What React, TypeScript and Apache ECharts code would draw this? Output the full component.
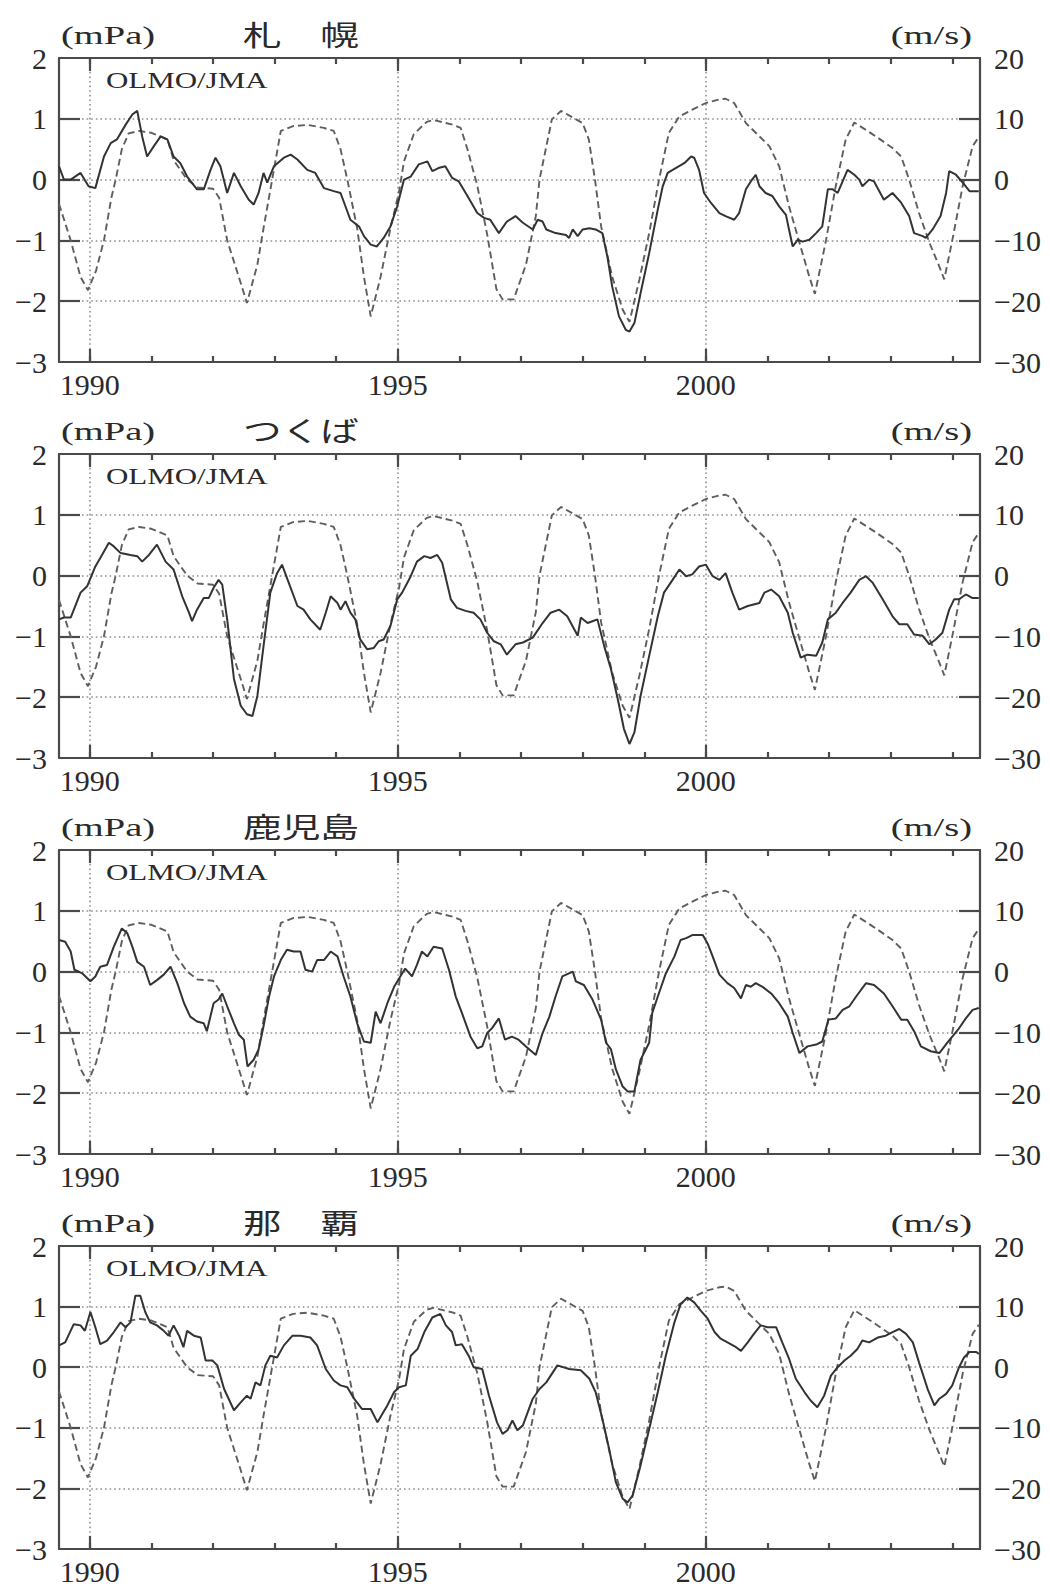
import React, { useEffect, useRef } from "react";
import * as echarts from "echarts";

// Station panels, top to bottom
const stationNames = ["札\u3000幌", "つくば", "鹿児島", "那\u3000覇"];

// Axis tick values
const yearLabels = [1990, 1995, 2000];
const yearTicks = [1990, 1991, 1992, 1993, 1994, 1995, 1996, 1997, 1998, 1999, 2000, 2001, 2002, 2003, 2004];
const pressureLabels = [-3, -2, -1, 0, 1, 2];
const pressureInnerTicks = [-2, -1, 0, 1];
const windLabels = [-30, -20, -10, 0, 10, 20];
const windInnerTicks = [-20, -10, 0, 10];

// Equatorial zonal wind (m/s), dashed, shared by every panel: [year, value]
const qboWind: number[][] = [
  [1989.5, -4], [1989.69, -10], [1989.85, -16], [1989.97, -18.2], [1990.1, -15], [1990.23, -10],
  [1990.35, -3], [1990.42, 0], [1990.52, 5], [1990.63, 7.6], [1990.8, 8], [1991.0, 7.7],
  [1991.26, 6.6], [1991.36, 3.2], [1991.58, 0], [1991.75, -1.3], [1992.0, -1.5], [1992.1, -3],
  [1992.23, -10], [1992.45, -17], [1992.55, -20.3], [1992.72, -14], [1992.82, -8], [1992.96, 0],
  [1993.1, 8], [1993.3, 8.8], [1993.53, 9], [1993.8, 8.5], [1993.96, 8], [1994.07, 5],
  [1994.18, 0], [1994.34, -8], [1994.45, -16], [1994.56, -22.5], [1994.72, -16], [1994.88, -8],
  [1995.02, -2], [1995.1, 3], [1995.26, 7.5], [1995.47, 9.5], [1995.58, 9.8], [1995.9, 9],
  [1996.02, 8.5], [1996.13, 5], [1996.29, -1], [1996.45, -9], [1996.6, -18], [1996.7, -19.7],
  [1996.88, -19.7], [1997.08, -14], [1997.24, -6], [1997.3, 0], [1997.5, 9.9], [1997.65, 11.3],
  [1998.0, 9.3], [1998.1, 6.6], [1998.2, 0], [1998.3, -7.7], [1998.48, -16], [1998.65, -21.4],
  [1998.76, -23.4], [1998.92, -16.5], [1999.08, -8.8], [1999.24, 0], [1999.4, 7.7], [1999.57, 10.4],
  [1999.78, 11.5], [2000.0, 12.6], [2000.22, 13.2], [2000.32, 13.3], [2000.46, 12.6], [2000.65, 9.3],
  [2000.87, 7.1], [2001.03, 5.5], [2001.19, 2.2], [2001.35, -4.4], [2001.52, -10.4], [2001.68, -16],
  [2001.77, -18.8], [2001.95, -10], [2002.11, -1], [2002.27, 6.6], [2002.41, 9.4], [2002.76, 7.1],
  [2003.03, 5.2], [2003.17, 3.8], [2003.3, 0], [2003.46, -5.5], [2003.63, -10.4], [2003.79, -14.3],
  [2003.87, -16.4], [2004.0, -10], [2004.17, -1], [2004.33, 5.5], [2004.43, 7],
];

// Ozone partial pressure anomaly (mPa), solid, per station: [year, value]
const sapporo: number[][] = [
  [1989.5, 0.22], [1989.58, 0.0], [1989.69, 0.0], [1989.85, 0.11], [1989.98, -0.11], [1990.09, -0.14],
  [1990.23, 0.38], [1990.34, 0.6], [1990.44, 0.66], [1990.58, 0.9], [1990.69, 1.07], [1990.77, 1.13],
  [1990.85, 0.71], [1990.93, 0.38], [1991.04, 0.55], [1991.15, 0.71], [1991.26, 0.66], [1991.36, 0.38],
  [1991.47, 0.27], [1991.58, 0.05], [1991.74, -0.16], [1991.85, -0.16], [1991.96, 0.16], [1992.04, 0.36],
  [1992.12, 0.22], [1992.23, -0.22], [1992.34, 0.11], [1992.45, -0.11], [1992.58, -0.33], [1992.66, -0.41],
  [1992.74, -0.22], [1992.82, 0.11], [1992.88, -0.05], [1992.99, 0.22], [1993.15, 0.36], [1993.26, 0.41],
  [1993.37, 0.33], [1993.53, 0.16], [1993.66, 0.11], [1993.8, -0.14], [1993.96, -0.19], [1994.07, -0.22],
  [1994.23, -0.66], [1994.37, -0.77], [1994.45, -0.93], [1994.56, -1.07], [1994.66, -1.1], [1994.77, -0.96],
  [1994.88, -0.77], [1994.99, -0.44], [1995.1, 0.0], [1995.21, 0.05], [1995.34, 0.25], [1995.48, 0.3],
  [1995.56, 0.14], [1995.66, 0.19], [1995.77, 0.22], [1995.88, 0.03], [1995.99, -0.03], [1996.13, -0.27],
  [1996.29, -0.55], [1996.4, -0.63], [1996.5, -0.66], [1996.64, -0.88], [1996.77, -0.69], [1996.91, -0.6],
  [1997.03, -0.71], [1997.19, -0.82], [1997.27, -0.66], [1997.35, -0.69], [1997.41, -0.82], [1997.56, -0.88],
  [1997.73, -0.91], [1997.78, -0.96], [1997.84, -0.82], [1997.92, -0.93], [1998.0, -0.82], [1998.11, -0.8],
  [1998.21, -0.82], [1998.32, -0.88], [1998.4, -1.26], [1998.48, -1.76], [1998.59, -2.25], [1998.7, -2.47],
  [1998.76, -2.5], [1998.84, -2.36], [1998.94, -1.87], [1999.08, -1.21], [1999.22, -0.49], [1999.3, -0.11],
  [1999.38, 0.11], [1999.51, 0.19], [1999.65, 0.27], [1999.76, 0.38], [1999.81, 0.36], [1999.89, 0.16],
  [1999.97, -0.22], [2000.08, -0.38], [2000.22, -0.55], [2000.32, -0.6], [2000.46, -0.66], [2000.54, -0.55],
  [2000.65, -0.16], [2000.73, -0.03], [2000.81, 0.08], [2000.87, -0.11], [2000.97, -0.22], [2001.08, -0.27],
  [2001.19, -0.44], [2001.3, -0.58], [2001.35, -0.82], [2001.41, -1.1], [2001.49, -0.99], [2001.57, -1.02],
  [2001.68, -0.99], [2001.79, -0.88], [2001.89, -0.77], [2001.98, -0.16], [2002.06, -0.16], [2002.14, -0.22],
  [2002.22, -0.03], [2002.3, 0.16], [2002.41, 0.08], [2002.49, 0.0], [2002.54, -0.11], [2002.65, 0.0],
  [2002.73, -0.03], [2002.89, -0.33], [2003.03, -0.22], [2003.17, -0.38], [2003.3, -0.6], [2003.38, -0.88],
  [2003.52, -0.93], [2003.57, -0.96], [2003.68, -0.82], [2003.81, -0.6], [2003.9, -0.22], [2003.95, 0.14],
  [2004.06, 0.08], [2004.17, -0.05], [2004.28, -0.19], [2004.43, -0.19],
];

const tsukuba: number[][] = [
  [1989.5, -0.72], [1989.58, -0.69], [1989.69, -0.69], [1989.85, -0.28], [1989.96, -0.17], [1990.09, 0.15],
  [1990.17, 0.29], [1990.31, 0.54], [1990.39, 0.48], [1990.5, 0.37], [1990.66, 0.34], [1990.77, 0.32],
  [1990.85, 0.23], [1990.96, 0.34], [1991.09, 0.51], [1991.23, 0.23], [1991.36, 0.1], [1991.5, -0.34],
  [1991.61, -0.61], [1991.66, -0.75], [1991.74, -0.56], [1991.85, -0.37], [1991.93, -0.37], [1992.01, -0.2],
  [1992.09, -0.07], [1992.15, -0.15], [1992.23, -0.72], [1992.34, -1.7], [1992.45, -2.14], [1992.55, -2.28],
  [1992.64, -2.31], [1992.72, -1.98], [1992.82, -1.16], [1992.93, -0.28], [1993.04, 0.04], [1993.12, 0.18],
  [1993.23, -0.12], [1993.37, -0.5], [1993.47, -0.56], [1993.58, -0.72], [1993.74, -0.89], [1993.83, -0.61],
  [1993.91, -0.34], [1994.02, -0.45], [1994.07, -0.56], [1994.15, -0.42], [1994.23, -0.61], [1994.31, -0.72],
  [1994.39, -1.05], [1994.5, -1.21], [1994.61, -1.19], [1994.69, -1.08], [1994.77, -1.05], [1994.88, -0.83],
  [1994.99, -0.39], [1995.07, -0.28], [1995.21, -0.01], [1995.31, 0.23], [1995.43, 0.32], [1995.53, 0.29],
  [1995.64, 0.34], [1995.72, 0.21], [1995.86, -0.39], [1995.96, -0.53], [1996.1, -0.58], [1996.23, -0.61],
  [1996.34, -0.72], [1996.45, -0.94], [1996.56, -1.08], [1996.67, -1.13], [1996.77, -1.3], [1996.91, -1.13],
  [1997.03, -1.1], [1997.19, -1.02], [1997.35, -0.78], [1997.48, -0.61], [1997.62, -0.56], [1997.75, -0.67],
  [1997.92, -0.99], [1997.97, -0.69], [1998.08, -0.78], [1998.16, -0.75], [1998.24, -0.72], [1998.35, -1.16],
  [1998.46, -1.54], [1998.57, -2.03], [1998.67, -2.52], [1998.76, -2.77], [1998.84, -2.58], [1998.94, -1.98],
  [1999.08, -1.32], [1999.22, -0.67], [1999.32, -0.28], [1999.46, -0.07], [1999.57, 0.1], [1999.68, -0.01],
  [1999.78, 0.02], [1999.89, 0.15], [2000.0, 0.18], [2000.11, -0.01], [2000.22, -0.07], [2000.32, 0.04],
  [2000.43, -0.28], [2000.54, -0.56], [2000.68, -0.5], [2000.87, -0.45], [2000.95, -0.28], [2001.06, -0.23],
  [2001.19, -0.34], [2001.33, -0.61], [2001.41, -0.94], [2001.54, -1.35], [2001.65, -1.3], [2001.79, -1.32],
  [2001.89, -1.1], [2001.98, -0.72], [2002.11, -0.61], [2002.22, -0.45], [2002.35, -0.28], [2002.49, -0.07],
  [2002.6, -0.01], [2002.71, -0.12], [2002.87, -0.39], [2003.03, -0.67], [2003.14, -0.8], [2003.27, -0.8],
  [2003.38, -0.97], [2003.52, -0.99], [2003.63, -1.13], [2003.73, -1.05], [2003.84, -0.94], [2003.95, -0.56],
  [2004.03, -0.39], [2004.11, -0.39], [2004.22, -0.31], [2004.33, -0.37], [2004.43, -0.37],
];

const kagoshima: number[][] = [
  [1989.5, 0.52], [1989.6, 0.49], [1989.69, 0.33], [1989.75, 0.03], [1989.88, -0.03], [1990.01, -0.16],
  [1990.09, -0.08], [1990.17, 0.08], [1990.28, 0.11], [1990.39, 0.41], [1990.52, 0.71], [1990.61, 0.63],
  [1990.69, 0.41], [1990.77, 0.16], [1990.88, 0.08], [1990.98, -0.22], [1991.09, -0.14], [1991.2, -0.05],
  [1991.31, 0.08], [1991.42, -0.19], [1991.53, -0.52], [1991.63, -0.74], [1991.74, -0.82], [1991.85, -0.85],
  [1991.9, -0.98], [1992.01, -0.52], [1992.09, -0.46], [1992.15, -0.36], [1992.23, -0.57], [1992.34, -0.85],
  [1992.42, -1.04], [1992.5, -1.12], [1992.56, -1.56], [1992.66, -1.45], [1992.74, -1.28], [1992.82, -0.9],
  [1992.91, -0.41], [1992.99, -0.08], [1993.1, 0.19], [1993.2, 0.36], [1993.31, 0.33], [1993.42, 0.33],
  [1993.5, 0.03], [1993.61, 0.0], [1993.69, 0.19], [1993.8, 0.19], [1993.91, 0.33], [1994.02, 0.25],
  [1994.12, -0.08], [1994.23, -0.41], [1994.34, -0.85], [1994.45, -1.15], [1994.56, -1.17], [1994.64, -0.66],
  [1994.72, -0.85], [1994.83, -0.52], [1994.94, -0.25], [1995.04, -0.08], [1995.12, 0.05], [1995.23, -0.08],
  [1995.31, 0.11], [1995.39, 0.33], [1995.48, 0.25], [1995.58, 0.41], [1995.72, 0.38], [1995.83, 0.03],
  [1995.94, -0.41], [1996.04, -0.68], [1996.18, -1.07], [1996.29, -1.26], [1996.37, -1.23], [1996.45, -1.01],
  [1996.53, -0.93], [1996.64, -0.77], [1996.74, -1.12], [1996.85, -1.07], [1996.96, -1.12], [1997.08, -1.23],
  [1997.24, -1.37], [1997.35, -1.01], [1997.46, -0.74], [1997.56, -0.41], [1997.67, -0.08], [1997.84, 0.0],
  [1997.89, -0.16], [1998.02, -0.22], [1998.16, -0.46], [1998.3, -0.79], [1998.38, -1.17], [1998.46, -1.28],
  [1998.54, -1.61], [1998.65, -1.89], [1998.73, -1.97], [1998.84, -1.97], [1998.94, -1.45], [1999.08, -1.17],
  [1999.13, -0.68], [1999.22, -0.41], [1999.35, -0.03], [1999.49, 0.25], [1999.59, 0.52], [1999.68, 0.55],
  [1999.78, 0.6], [1999.95, 0.6], [2000.03, 0.46], [2000.11, 0.25], [2000.22, -0.05], [2000.35, -0.19],
  [2000.46, -0.27], [2000.57, -0.44], [2000.65, -0.22], [2000.73, -0.25], [2000.81, -0.19], [2000.92, -0.25],
  [2001.06, -0.36], [2001.19, -0.52], [2001.33, -0.74], [2001.41, -1.01], [2001.52, -1.34], [2001.65, -1.23],
  [2001.79, -1.2], [2001.89, -1.15], [2001.99, -0.79], [2002.11, -0.77], [2002.22, -0.63], [2002.33, -0.57],
  [2002.44, -0.41], [2002.6, -0.19], [2002.73, -0.22], [2002.89, -0.36], [2003.03, -0.57], [2003.17, -0.79],
  [2003.27, -0.79], [2003.38, -0.98], [2003.49, -1.23], [2003.65, -1.31], [2003.79, -1.34], [2003.92, -1.17],
  [2004.09, -0.96], [2004.22, -0.77], [2004.33, -0.63], [2004.43, -0.6],
];

const naha: number[][] = [
  [1989.5, 0.36], [1989.6, 0.41], [1989.74, 0.71], [1989.85, 0.69], [1989.92, 0.6], [1990.01, 0.91],
  [1990.09, 0.66], [1990.17, 0.38], [1990.28, 0.44], [1990.39, 0.58], [1990.5, 0.74], [1990.58, 0.66],
  [1990.66, 0.74], [1990.74, 1.18], [1990.82, 1.18], [1990.9, 0.91], [1990.98, 0.74], [1991.09, 0.69],
  [1991.2, 0.6], [1991.28, 0.52], [1991.36, 0.69], [1991.45, 0.52], [1991.52, 0.33], [1991.58, 0.6],
  [1991.69, 0.52], [1991.8, 0.49], [1991.88, 0.11], [1991.99, 0.11], [1992.07, 0.03], [1992.18, -0.36],
  [1992.34, -0.71], [1992.45, -0.58], [1992.55, -0.47], [1992.61, -0.52], [1992.69, -0.25], [1992.77, -0.3],
  [1992.85, 0.03], [1992.93, 0.19], [1993.04, 0.16], [1993.15, 0.36], [1993.29, 0.52], [1993.42, 0.52],
  [1993.58, 0.49], [1993.69, 0.36], [1993.83, -0.03], [1993.96, -0.22], [1994.07, -0.3], [1994.18, -0.33],
  [1994.29, -0.52], [1994.42, -0.69], [1994.56, -0.69], [1994.67, -0.91], [1994.75, -0.77], [1994.83, -0.63],
  [1994.94, -0.41], [1995.02, -0.33], [1995.13, -0.3], [1995.21, 0.19], [1995.32, 0.3], [1995.43, 0.58],
  [1995.56, 0.82], [1995.69, 0.88], [1995.78, 0.69], [1995.88, 0.58], [1995.94, 0.36], [1996.04, 0.38],
  [1996.15, 0.19], [1996.23, 0.0], [1996.37, -0.03], [1996.48, -0.47], [1996.61, -0.91], [1996.7, -1.1],
  [1996.78, -1.04], [1996.86, -0.88], [1996.94, -1.04], [1997.03, -0.96], [1997.19, -0.52], [1997.3, -0.36],
  [1997.41, -0.25], [1997.59, 0.03], [1997.78, -0.03], [1997.97, -0.05], [1998.11, -0.19], [1998.21, -0.41],
  [1998.32, -0.85], [1998.43, -1.35], [1998.54, -1.9], [1998.65, -2.17], [1998.73, -2.23], [1998.81, -2.12],
  [1998.94, -1.62], [1999.08, -1.02], [1999.22, -0.41], [1999.35, 0.19], [1999.49, 0.74], [1999.59, 1.04],
  [1999.7, 1.15], [1999.81, 1.07], [1999.92, 0.93], [2000.03, 0.8], [2000.14, 0.58], [2000.24, 0.47],
  [2000.35, 0.41], [2000.49, 0.33], [2000.57, 0.27], [2000.68, 0.41], [2000.78, 0.55], [2000.89, 0.69],
  [2001.0, 0.66], [2001.14, 0.66], [2001.24, 0.41], [2001.35, 0.14], [2001.46, -0.19], [2001.6, -0.41],
  [2001.7, -0.55], [2001.81, -0.66], [2001.92, -0.47], [2002.03, -0.14], [2002.14, 0.0], [2002.25, 0.11],
  [2002.35, 0.19], [2002.46, 0.3], [2002.54, 0.44], [2002.65, 0.41], [2002.79, 0.49], [2002.92, 0.52],
  [2003.03, 0.58], [2003.14, 0.63], [2003.25, 0.55], [2003.36, 0.41], [2003.46, 0.08], [2003.6, -0.36],
  [2003.71, -0.63], [2003.79, -0.52], [2003.9, -0.44], [2004.0, -0.3], [2004.11, 0.0], [2004.19, 0.16],
  [2004.28, 0.25], [2004.39, 0.25], [2004.43, 0.22],
];

const stationSeries = [sapporo, tsukuba, kagoshima, naha];

// Layout
const PANEL_TOPS = [58, 454, 850, 1246];
const PANEL_HEIGHT = 304;
const PLOT_LEFT = 59;
const PLOT_RIGHT = 980;
const X_MIN = 1989.5;
const X_MAX = 2004.45;

const SERIF = "'Liberation Serif', 'Times New Roman', serif";
const CJK = "'Noto Sans CJK JP', sans-serif";
const INK = "#2a2a2a";
const FRAME = "#4a4a4a";
const GRID = "#8f8f8f";
const TICK_FONT = 30;

const withMinus = (v: number | string) => String(v).replace("-", "\u2212");
const plainYear = (v: number | string) => String(Math.round(Number(v)));

function buildOption() {
  const grid: any[] = [];
  const xAxis: any[] = [];
  const yAxis: any[] = [];
  const series: any[] = [];
  const graphic: any[] = [];

  PANEL_TOPS.forEach((top, p) => {
    grid.push({
      left: PLOT_LEFT,
      top,
      width: PLOT_RIGHT - PLOT_LEFT,
      height: PANEL_HEIGHT,
      containLabel: false,
    });

    const xBase = {
      type: "value",
      gridIndex: p,
      min: X_MIN,
      max: X_MAX,
      axisLabel: { show: false },
      splitLine: { show: false },
    };
    const frameLine = { show: true, onZero: false, lineStyle: { color: FRAME, width: 2.2 } };
    const noLine = { show: false, onZero: false };
    const dotted = { color: GRID, width: 1.6, type: [1.6, 3] };

    // bottom: frame, long year ticks, labels, vertical dotted grid
    xAxis.push({
      ...xBase,
      position: "bottom",
      axisLine: frameLine,
      axisTick: {
        show: true,
        inside: true,
        length: 13,
        customValues: yearLabels,
        lineStyle: { color: FRAME, width: 2.2 },
      },
      axisLabel: {
        show: true,
        customValues: yearLabels,
        margin: 7,
        fontSize: TICK_FONT,
        fontFamily: SERIF,
        color: INK,
        formatter: plainYear,
      },
      splitLine: { show: true, lineStyle: dotted },
    });
    // bottom: short yearly ticks
    xAxis.push({
      ...xBase,
      position: "bottom",
      axisLine: noLine,
      axisTick: {
        show: true,
        inside: true,
        length: 6,
        customValues: yearTicks,
        lineStyle: { color: FRAME, width: 2.2 },
      },
    });
    // top: frame and long year ticks
    xAxis.push({
      ...xBase,
      position: "top",
      axisLine: frameLine,
      axisTick: {
        show: true,
        inside: true,
        length: 13,
        customValues: yearLabels,
        lineStyle: { color: FRAME, width: 2.2 },
      },
    });
    // top: short yearly ticks
    xAxis.push({
      ...xBase,
      position: "top",
      axisLine: noLine,
      axisTick: {
        show: true,
        inside: true,
        length: 6,
        customValues: yearTicks,
        lineStyle: { color: FRAME, width: 2.2 },
      },
    });

    // left: ozone anomaly (mPa)
    yAxis.push({
      type: "value",
      gridIndex: p,
      position: "left",
      min: -3,
      max: 2,
      interval: 1,
      axisLine: frameLine,
      axisTick: {
        show: true,
        inside: true,
        length: 21,
        customValues: pressureInnerTicks,
        lineStyle: { color: FRAME, width: 2.2 },
      },
      axisLabel: {
        show: true,
        customValues: pressureLabels,
        margin: 12,
        fontSize: TICK_FONT,
        fontFamily: SERIF,
        color: INK,
        formatter: withMinus,
      },
      splitLine: { show: true, lineStyle: dotted },
    });
    // right: zonal wind (m/s)
    yAxis.push({
      type: "value",
      gridIndex: p,
      position: "right",
      min: -30,
      max: 20,
      interval: 10,
      axisLine: frameLine,
      axisTick: {
        show: true,
        inside: true,
        length: 21,
        customValues: windInnerTicks,
        lineStyle: { color: FRAME, width: 2.2 },
      },
      axisLabel: {
        show: true,
        customValues: windLabels,
        margin: 14,
        fontSize: TICK_FONT,
        fontFamily: SERIF,
        color: INK,
        formatter: withMinus,
      },
      splitLine: { show: false },
    });

    series.push({
      type: "line",
      name: "wind" + p,
      xAxisIndex: p * 4,
      yAxisIndex: p * 2 + 1,
      data: qboWind,
      showSymbol: false,
      symbol: "none",
      smooth: false,
      lineStyle: { color: "#5e5e5e", width: 1.9, type: [7, 4] },
      z: 3,
    });
    series.push({
      type: "line",
      name: "ozone" + p,
      xAxisIndex: p * 4,
      yAxisIndex: p * 2,
      data: stationSeries[p],
      showSymbol: false,
      symbol: "none",
      smooth: false,
      lineStyle: { color: "#333333", width: 2 },
      z: 4,
    });

    // panel texts
    const headY = top - 23;
    graphic.push({
      type: "text",
      x: 61,
      y: headY,
      scaleX: 1.48,
      style: {
        text: "(mPa)",
        fontSize: 26,
        fontFamily: SERIF,
        fill: INK,
        textAlign: "left",
        textVerticalAlign: "middle",
      },
    });
    graphic.push({
      type: "text",
      x: 243,
      y: headY - 1,
      scaleX: 1.38,
      style: {
        text: stationNames[p],
        fontSize: 28,
        fontFamily: CJK,
        fill: INK,
        textAlign: "left",
        textVerticalAlign: "middle",
      },
    });
    graphic.push({
      type: "text",
      x: 972,
      y: headY,
      scaleX: 1.48,
      style: {
        text: "(m/s)",
        fontSize: 26,
        fontFamily: SERIF,
        fill: INK,
        textAlign: "right",
        textVerticalAlign: "middle",
      },
    });
    graphic.push({
      type: "text",
      x: 106,
      y: top + 22,
      scaleX: 1.29,
      style: {
        text: "OLMO/JMA",
        fontSize: 24,
        fontFamily: SERIF,
        fill: INK,
        textAlign: "left",
        textVerticalAlign: "middle",
      },
    });
  });

  return {
    animation: false,
    backgroundColor: "#ffffff",
    grid,
    xAxis,
    yAxis,
    series,
    graphic,
  };
}

export default function App() {
  const ref = useRef<HTMLDivElement | null>(null);

  useEffect(() => {
    if (!ref.current) return;
    const chart = echarts.init(ref.current, null, { renderer: "svg" });
    chart.setOption(buildOption() as any);
    return () => chart.dispose();
  }, []);

  return (
    <div
      ref={ref}
      style={{ position: "absolute", left: 0, top: 0, width: 1050, height: 1586, background: "#fff" }}
    />
  );
}
